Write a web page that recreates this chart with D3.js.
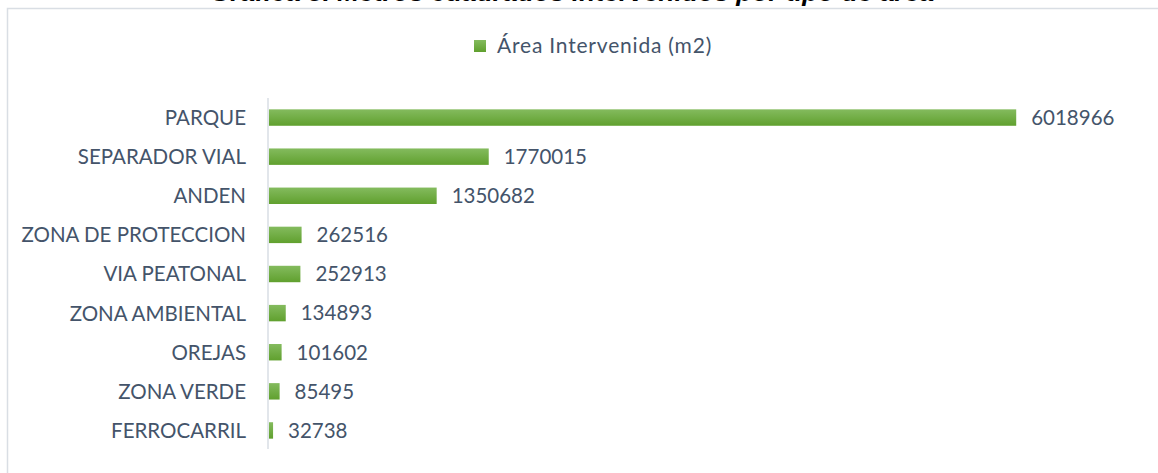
<!DOCTYPE html>
<html>
<head>
<meta charset="utf-8">
<script src="https://cdn.jsdelivr.net/npm/d3@7"></script>
<style>
  html, body { margin: 0; padding: 0; background: #fff; }
  svg { display: block; font-family: Lato, "Open Sans", sans-serif; }
</style>
</head>
<body>
<div id="chart"></div>
<script>
var categories = ["PARQUE", "SEPARADOR VIAL", "ANDEN", "ZONA DE PROTECCION", "VIA PEATONAL",
	"ZONA AMBIENTAL", "OREJAS", "ZONA VERDE", "FERROCARRIL"];
var areaValues = [6018966, 1770015, 1350682, 262516, 252913, 134893, 101602, 85495, 32738];
var seriesName = "Área Intervenida (m2)";
var chartTitle = "Gráfica 3. Metros cuadrados intervenidos por tipo de área";

var width = 1158, height = 473;
var textColor = "#44546a";

var svg = d3.select("#chart").append("svg")
	.attr("width", width)
	.attr("height", height);

var defs = svg.append("defs");
var grad = defs.append("linearGradient")
	.attr("id", "barGrad")
	.attr("x1", 0).attr("y1", 0).attr("x2", 0).attr("y2", 1);
grad.append("stop").attr("offset", "0%").attr("stop-color", "#84bb5e");
grad.append("stop").attr("offset", "100%").attr("stop-color", "#60a02e");

// title, mostly cut off at the top edge (as in the source picture)
svg.append("text")
	.attr("x", 572)
	.attr("y", 1)
	.attr("text-anchor", "middle")
	.style("font-family", "'Liberation Sans', sans-serif")
	.style("font-weight", "bold")
	.style("font-style", "italic")
	.style("font-size", "26.4px")
	.attr("fill", "#000")
	.text(chartTitle);

// chart area border
svg.append("rect")
	.attr("x", 7.5)
	.attr("y", 8.5)
	.attr("width", 1170)
	.attr("height", 500)
	.attr("fill", "none")
	.attr("stroke", "#d9dee4")
	.attr("stroke-width", 1.5);

// legend
var legend = svg.append("g").attr("transform", "translate(474,40)");
legend.append("rect")
	.attr("width", 12).attr("height", 12)
	.attr("fill", "url(#barGrad)");
legend.append("text")
	.attr("x", 23)
	.attr("y", 13)
	.attr("fill", textColor)
	.style("font-size", "21px")
	.style("letter-spacing", "0.8px")
	.text(seriesName);

var x = d3.scaleLinear()
	.domain([0, 7000000])
	.range([269, 1138]);

var y = d3.scaleBand()
	.domain(categories)
	.range([98, 450])
	.paddingInner(0.58)
	.paddingOuter(0.29);

// category axis line
svg.append("line")
	.attr("x1", 268).attr("x2", 268)
	.attr("y1", 98).attr("y2", 449)
	.attr("stroke", "#d9dee4")
	.attr("stroke-width", 1.5);

var yAxis = svg.append("g")
	.attr("transform", "translate(268,0)")
	.call(d3.axisLeft(y).tickSize(0).tickPadding(22));
yAxis.select(".domain").remove();
yAxis.selectAll("text")
	.attr("fill", textColor)
	.style("font-family", "Lato, sans-serif")
	.style("font-size", "20.5px")
	.attr("dy", "0.36em");

var rows = categories.map(function (c, i) { return {name: c, value: areaValues[i]}; });

svg.selectAll("rect.bar")
	.data(rows)
	.enter().append("rect")
		.attr("class", "bar")
		.attr("x", x(0))
		.attr("y", function (d) { return y(d.name); })
		.attr("width", function (d) { return x(d.value) - x(0); })
		.attr("height", y.bandwidth())
		.attr("fill", "url(#barGrad)");

svg.selectAll("text.val")
	.data(rows)
	.enter().append("text")
		.attr("class", "val")
		.attr("x", function (d) { return x(d.value) + 15; })
		.attr("y", function (d) { return y(d.name) + y.bandwidth() / 2; })
		.attr("dy", "0.36em")
		.attr("fill", textColor)
		.style("font-size", "20.5px")
		.text(function (d) { return d.value; });
</script>
</body>
</html>
